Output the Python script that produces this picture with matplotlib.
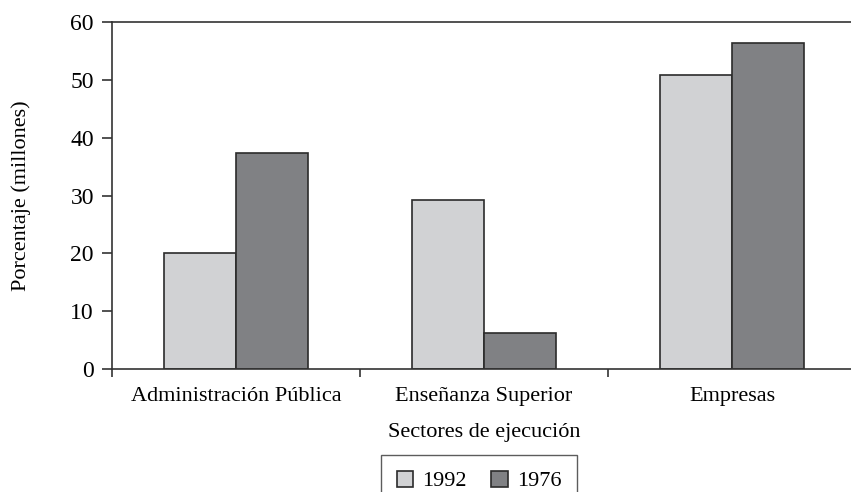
import numpy as np
import matplotlib.pyplot as plt

sectores = ["Administración Pública", "Enseñanza Superior", "Empresas"]
v1992 = [20.0, 29.3, 50.8]
v1976 = [37.3, 6.3, 56.4]

plt.rcParams["font.family"] = ["Liberation Serif", "DejaVu Serif"]

fig = plt.figure(figsize=(8.51, 4.92), dpi=100)
ax = fig.add_axes([112 / 851, 1 - 369 / 492, 744 / 851, 347 / 492])

x = np.arange(len(sectores))
w = 0.29
ax.bar(x - w / 2, v1992, w, color="#d1d2d4", edgecolor="#2b2b2b", linewidth=1.2, label="1992")
ax.bar(x + w / 2, v1976, w, color="#808184", edgecolor="#2b2b2b", linewidth=1.2, label="1976")

ax.set_xlim(-0.5, 2.5)
ax.set_ylim(0, 60)
ax.set_yticks(range(0, 61, 10))
ax.set_xticks(x)
ax.set_xticklabels(sectores)
ax.set_xticks([-0.5, 0.5, 1.5, 2.5], minor=True)
ax.tick_params(axis="x", which="major", length=0, pad=13, labelsize=16)
ax.tick_params(axis="x", which="minor", length=6, width=1.2, color="#333333")
ax.tick_params(axis="y", length=7, width=1.2, color="#333333", labelsize=17, pad=6)

for s in ["left", "bottom", "top"]:
    ax.spines[s].set_color("#333333")
    ax.spines[s].set_linewidth(1.2)
ax.spines["right"].set_visible(False)

ax.set_xlabel("Sectores de ejecución", fontsize=16, labelpad=12)
ax.set_ylabel("Porcentaje (millones)", fontsize=16, labelpad=28)

leg = fig.legend(loc="upper center", bbox_to_anchor=(479 / 851, 1 - 455 / 492), ncol=2,
                 fontsize=16, frameon=True, fancybox=False, handlelength=0.75, handleheight=0.75,
                 columnspacing=1.1, handletextpad=0.4, borderpad=0.7, borderaxespad=0)
leg.get_frame().set_edgecolor("#333333")
leg.get_frame().set_linewidth(1.0)

fig.savefig("out.png", dpi=100)
